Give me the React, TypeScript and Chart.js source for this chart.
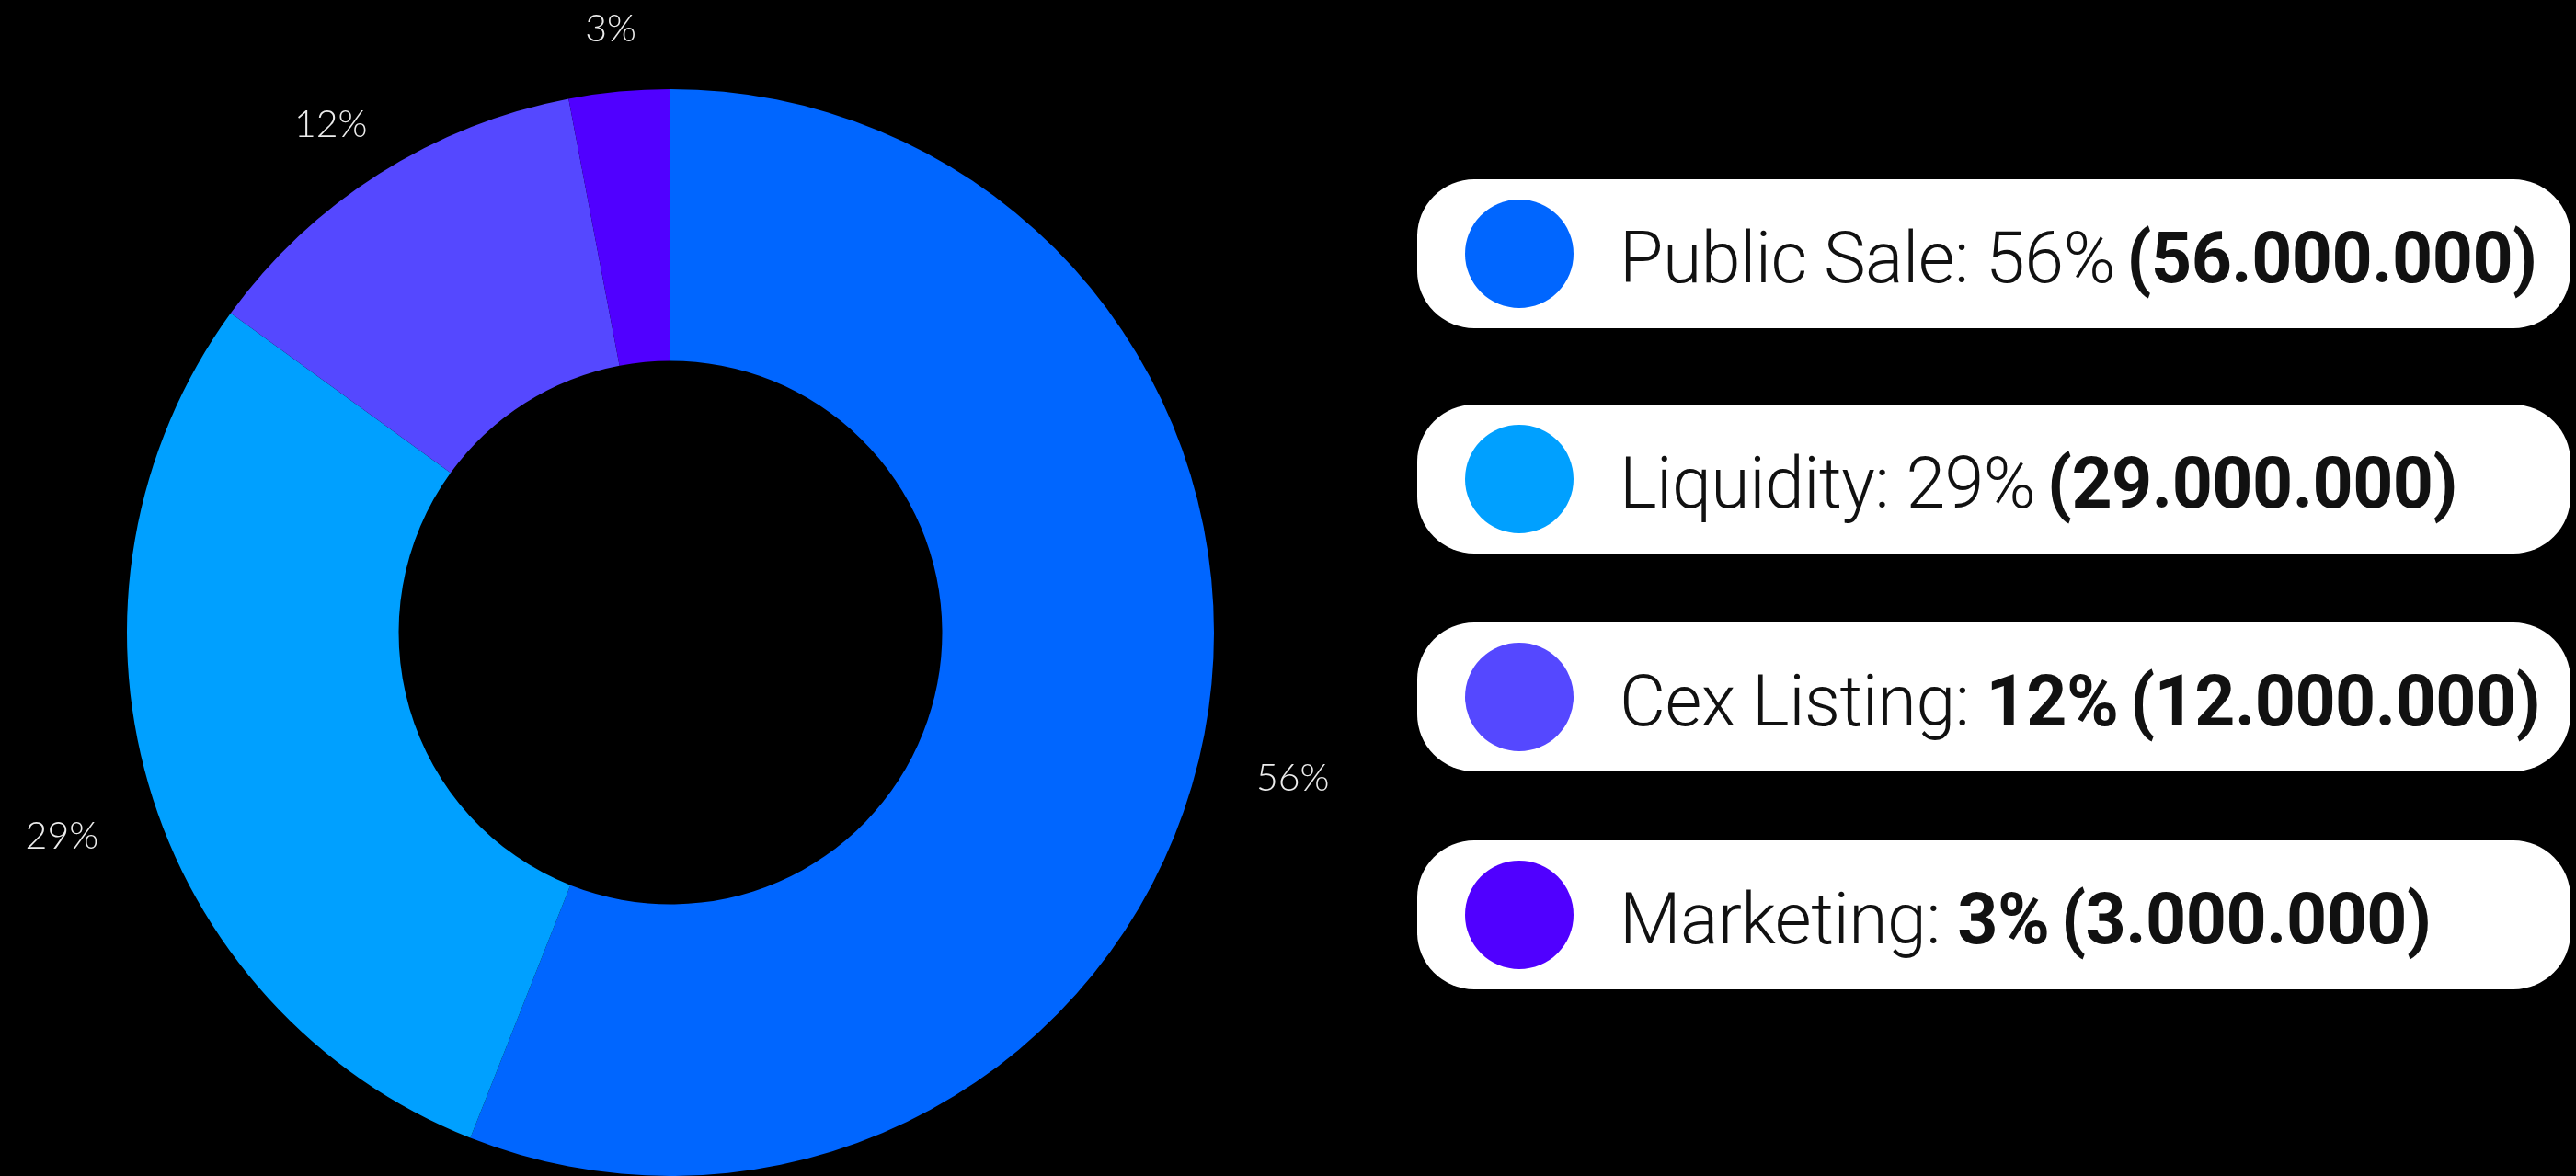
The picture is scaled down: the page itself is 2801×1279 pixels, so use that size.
import React, { useEffect, useRef } from "react";
import { Chart, registerables } from "chart.js";

Chart.register(...registerables);

// ---- data ----
const categories = ["Public Sale", "Liquidity", "Cex Listing", "Marketing"];
const shares = [56, 29, 12, 3];
const tokenAmounts = ["56.000.000", "29.000.000", "12.000.000", "3.000.000"];
const percentIsBold = [false, false, true, true];

// ---- styles ----
const PALETTE = ["#0066FF", "#00A0FF", "#5548FF", "#5000FF"];
const PILL_TOPS = [195, 440, 677, 914];

const outsideLabels = {
  id: "outsideLabels",
  afterDatasetsDraw(chart: any) {
    const ctx = chart.ctx;
    const meta = chart.getDatasetMeta(0);
    ctx.save();
    ctx.font = "300 41px Lato, 'Noto Sans', sans-serif";
    ctx.fillStyle = "#ececec";
    ctx.textAlign = "center";
    ctx.textBaseline = "middle";
    meta.data.forEach((arc: any, i: number) => {
      const p = arc.getProps(["x", "y", "startAngle", "endAngle", "outerRadius"], true);
      const mid = (p.startAngle + p.endAngle) / 2;
      const r = p.outerRadius + 98;
      ctx.fillText(shares[i] + "%", p.x + r * Math.cos(mid), p.y + r * Math.sin(mid) + 30);
    });
    ctx.restore();
  },
};

export default function App() {
  const canvasRef = useRef<HTMLCanvasElement | null>(null);

  useEffect(() => {
    document.body.style.margin = "0";
    document.body.style.background = "#000";
    const canvas = canvasRef.current;
    if (!canvas) return;
    const chart = new Chart(canvas, {
      type: "doughnut",
      data: {
        labels: categories,
        datasets: [
          {
            data: shares,
            backgroundColor: PALETTE,
            borderWidth: 0,
            hoverOffset: 0,
            offset: 0,
          },
        ],
      },
      options: {
        animation: false,
        responsive: false,
        devicePixelRatio: 1,
        cutout: "50%",
        layout: { padding: { left: 138, right: 200, top: 97, bottom: 0 } },
        plugins: {
          legend: { display: false },
          tooltip: { enabled: false },
        },
        events: [],
      },
      plugins: [outsideLabels],
    });
    return () => chart.destroy();
  }, []);

  return (
    <div
      style={{
        position: "absolute",
        left: 0,
        top: 0,
        width: 2801,
        height: 1279,
        background: "#000",
        overflow: "hidden",
      }}
    >
      <canvas
        ref={canvasRef}
        width={1520}
        height={1279}
        style={{ position: "absolute", left: 0, top: 0, width: 1520, height: 1279 }}
      />
      {categories.map((name, i) => (
        <div
          key={name}
          style={{
            position: "absolute",
            left: 1541,
            top: PILL_TOPS[i],
            width: 1254,
            height: 162,
            background: "#fff",
            borderRadius: 62,
            display: "flex",
            alignItems: "center",
          }}
        >
          <div
            style={{
              width: 118,
              height: 118,
              borderRadius: "50%",
              background: PALETTE[i],
              marginLeft: 52,
              flex: "none",
            }}
          />
          <div
            style={{
              marginLeft: 50,
              fontFamily: "Roboto, 'Noto Sans', sans-serif",
              fontSize: 77,
              lineHeight: 1,
              color: "#111",
              whiteSpace: "nowrap",
              position: "relative",
              top: 5,
              letterSpacing: -0.5,
            }}
          >
            <span style={{ fontWeight: 300 }}>{name}: </span>
            <span style={{ fontWeight: percentIsBold[i] ? 700 : 300 }}>{shares[i]}%</span>
            <span style={{ fontWeight: 300, letterSpacing: -6 }}> </span>
            <span style={{ fontWeight: 700 }}>({tokenAmounts[i]})</span>
          </div>
        </div>
      ))}
    </div>
  );
}
